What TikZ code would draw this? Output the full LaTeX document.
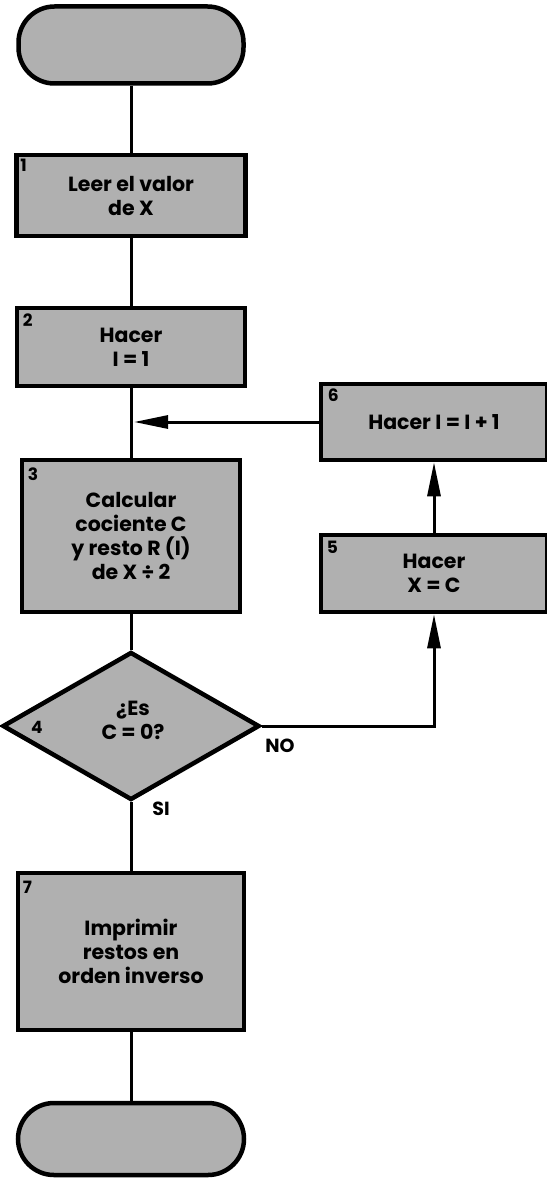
\documentclass[tikz,border=0pt]{standalone}
\usepackage{fontspec}
\setmainfont{Poppins}
\usetikzlibrary{shapes.geometric,arrows.meta}
\definecolor{boxgray}{RGB}{176,176,176}
\begin{document}
\begin{tikzpicture}[x=1pt,y=-1pt,
  box/.style={draw=black,line width=4.5pt,fill=boxgray,inner sep=0pt,
    align=center,font=\fontsize{20.5}{24}\selectfont\bfseries},
  term/.style={draw=black,line width=4.5pt,fill=boxgray,rounded corners=36pt,inner sep=0pt},
  num/.style={font=\fontsize{17}{17}\selectfont\bfseries,anchor=north west,inner sep=0pt},
  lbl/.style={font=\fontsize{19}{19}\selectfont\bfseries,inner sep=0pt},
  conn/.style={line width=3pt},
  arr/.style={line width=3pt,-{Triangle[length=34pt,width=13pt]}}]
\useasboundingbox (0,0) rectangle (546,1182);
\node[term,minimum width=225pt,minimum height=77pt] (start) at (131,45) {};
\node[box,minimum width=229pt,minimum height=81pt] (b1) at (131,195.5) {Leer el valor\\de X};
\node[box,minimum width=228pt,minimum height=78pt] (b2) at (131,347) {Hacer\\I = 1};
\node[box,minimum width=218pt,minimum height=152pt] (b3) at (131,536) {Calcular\\cociente C\\y resto R (I)\\de X ÷ 2};
\node[draw=black,line width=4.5pt,fill=boxgray,diamond,inner sep=0pt,
  minimum width=257pt,minimum height=148pt] (d4) at (131,726) {};
\node[box,draw=none,fill=none] (d4t) at (133,720) {¿Es\\C = 0?};
\node[box,minimum width=226pt,minimum height=157pt] (b7) at (131,951.5) {Imprimir\\restos en\\orden inverso};
\node[term,minimum width=226pt,minimum height=72pt] (stop) at (131,1139) {};
\node[box,minimum width=226pt,minimum height=76pt] (b6) at (434,422) {Hacer I = I + 1};
\node[box,minimum width=226pt,minimum height=77pt] (b5) at (434,573.5) {Hacer\\X = C};
% numbers
\node[num] (n1) at ([shift={(6,6)}]b1.north west) {1};
\node[num] (n2) at ([shift={(8,8)}]b2.north west) {2};
\node[num] (n3) at ([shift={(8,10)}]b3.north west) {3};
\node[num,anchor=west] (n4) at (31,727) {4};
\node[num] (n7) at ([shift={(7,10)}]b7.north west) {7};
\node[num] (n6) at ([shift={(9,7)}]b6.north west) {6};
\node[num] (n5) at ([shift={(8,8)}]b5.north west) {5};
% connectors
\coordinate (j) at (b3.north |- b6.west);
\coordinate (k) at (b5.south |- d4.east);
\draw[conn] (start.south) -- (b1.north);
\draw[conn] (b1.south) -- (b2.north);
\draw[conn] (b2.south) -- (b3.north);
\draw[conn] (b3.south) -- (d4.north);
\draw[conn] (d4.south) -- (b7.north);
\draw[conn] (b7.south) -- (stop.north);
\draw[arr] (b6.west) -- ([xshift=3pt]j);
\draw[arr] (b5.north) -- (b6.south);
\draw[arr] (d4.east) -- (k) -- (b5.south);
\node[lbl] (no) at (280,746) {NO};
\node[lbl] (si) at (161,809) {SI};
\end{tikzpicture}
\end{document}
